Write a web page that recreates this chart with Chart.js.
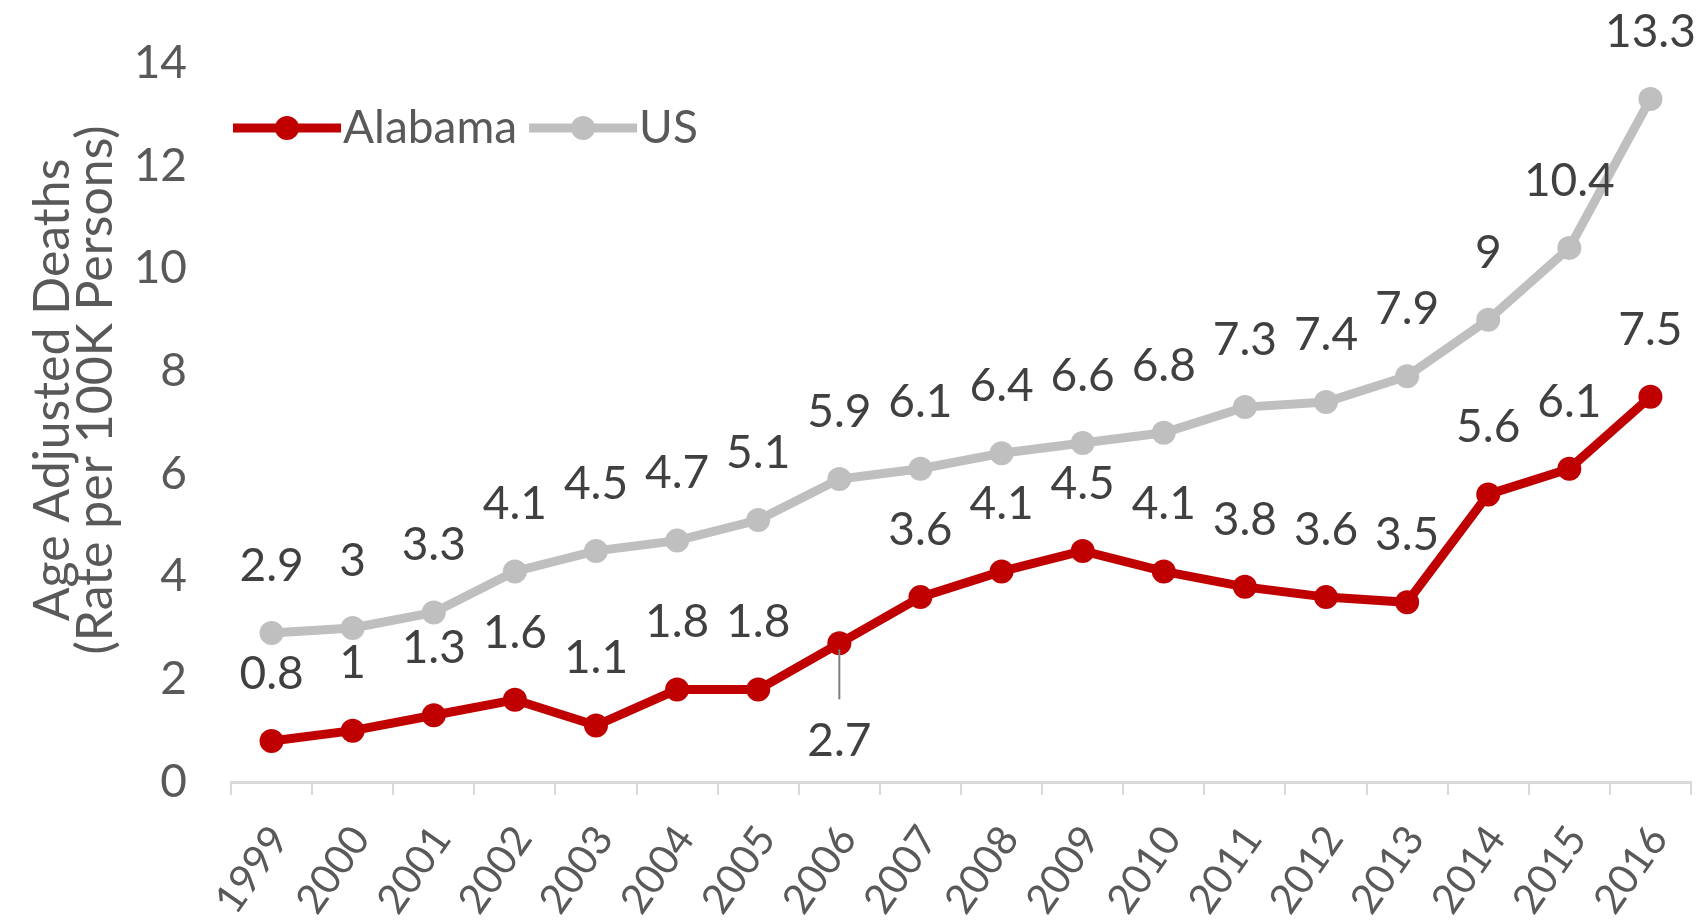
<!DOCTYPE html>
<html>
<head>
<meta charset="utf-8">
<script src="https://cdn.jsdelivr.net/npm/chart.js@4.4.1/dist/chart.umd.min.js"></script>
<style>
  html, body { margin: 0; padding: 0; background: #fff; }
  #chart { display: block; }
</style>
</head>
<body>
<canvas id="chart" width="1703" height="923"></canvas>
<script>
const years = ['1999', '2000', '2001', '2002', '2003', '2004', '2005', '2006', '2007',
               '2008', '2009', '2010', '2011', '2012', '2013', '2014', '2015', '2016'];
const alabamaRates = [0.8, 1, 1.3, 1.6, 1.1, 1.8, 1.8, 2.7, 3.6, 4.1, 4.5, 4.1, 3.8, 3.6, 3.5, 5.6, 6.1, 7.5];
const usRates = [2.9, 3, 3.3, 4.1, 4.5, 4.7, 5.1, 5.9, 6.1, 6.4, 6.6, 6.8, 7.3, 7.4, 7.9, 9, 10.4, 13.3];
const yTitle = ['Age Adjusted Deaths', '(Rate per 100K Persons)'];

const red = '#C00000';
const gray = '#BFBFBF';
const textColor = '#595959';
const fontFamily = 'Lato, "Open Sans", sans-serif';

// labels that sit under their point (dataset index -> point indexes)
const labelsBelow = { 0: [7] };

const pointLabels = {
    id: 'pointLabels',
    afterDatasetsDraw(chart) {
        const ctx = chart.ctx;
        ctx.save();
        ctx.font = `46px ${fontFamily}`;
        ctx.fillStyle = '#404040';
        ctx.textAlign = 'center';
        ctx.textBaseline = 'middle';
        chart.data.datasets.forEach((ds, i) => {
            const meta = chart.getDatasetMeta(i);
            const below = labelsBelow[i] || [];
            meta.data.forEach((pt, j) => {
                const txt = String(ds.data[j]);
                if (below.includes(j)) {
                    ctx.strokeStyle = '#7f7f7f';
                    ctx.lineWidth = 2;
                    ctx.beginPath();
                    ctx.moveTo(pt.x, pt.y + 6);
                    ctx.lineTo(pt.x, pt.y + 56);
                    ctx.stroke();
                    ctx.fillText(txt, pt.x, pt.y + 98);
                } else {
                    ctx.fillText(txt, pt.x, pt.y - 67);
                }
            });
        });
        ctx.restore();
    }
};

// legend drawn inside the plot, top left
const insideLegend = {
    id: 'insideLegend',
    afterDraw(chart) {
        const ctx = chart.ctx;
        const area = chart.chartArea;
        let x = area.left + 2;
        const y = area.top + 65;
        ctx.save();
        ctx.font = `46px ${fontFamily}`;
        ctx.textBaseline = 'middle';
        ctx.textAlign = 'left';
        chart.data.datasets.forEach(ds => {
            ctx.strokeStyle = ds.borderColor;
            ctx.lineWidth = ds.borderWidth;
            ctx.beginPath();
            ctx.moveTo(x, y);
            ctx.lineTo(x + 108, y);
            ctx.stroke();
            ctx.fillStyle = ds.borderColor;
            ctx.beginPath();
            ctx.arc(x + 54, y, ds.pointRadius, 0, Math.PI * 2);
            ctx.fill();
            ctx.fillStyle = textColor;
            ctx.fillText(ds.label, x + 110, y);
            x += 110 + ctx.measureText(ds.label).width + 12;
        });
        ctx.restore();
    }
};

// two-line y title, centred a bit above the plot middle like the original
const yAxisTitle = {
    id: 'yAxisTitle',
    afterDraw(chart) {
        const ctx = chart.ctx;
        ctx.save();
        ctx.font = `50px ${fontFamily}`;
        ctx.fillStyle = textColor;
        ctx.textAlign = 'center';
        ctx.textBaseline = 'middle';
        ctx.translate(53, 390);
        ctx.rotate(-Math.PI / 2);
        yTitle.forEach((line, i) => ctx.fillText(line, 0, i * 43));
        ctx.restore();
    }
};

new Chart(document.getElementById('chart'), {
    type: 'line',
    data: {
        labels: years,
        datasets: [
            {
                label: 'Alabama',
                data: alabamaRates,
                borderColor: red,
                backgroundColor: red,
                pointBackgroundColor: red,
                pointBorderColor: red,
                borderWidth: 9,
                pointRadius: 12,
                pointBorderWidth: 0,
                tension: 0,
                clip: false
            },
            {
                label: 'US',
                data: usRates,
                borderColor: gray,
                backgroundColor: gray,
                pointBackgroundColor: gray,
                pointBorderColor: gray,
                borderWidth: 9,
                pointRadius: 12,
                pointBorderWidth: 0,
                tension: 0,
                clip: false
            }
        ]
    },
    options: {
        responsive: false,
        animation: false,
        layout: { padding: { top: 63, right: 12, left: 0, bottom: 0 } },
        plugins: {
            legend: { display: false },
            tooltip: { enabled: false }
        },
        scales: {
            x: {
                offset: true,
                grid: {
                    offset: true,
                    drawOnChartArea: false,
                    drawTicks: true,
                    tickLength: 13,
                    color: '#D9D9D9',
                    lineWidth: 2
                },
                border: { color: '#D9D9D9', width: 3 },
                ticks: {
                    color: textColor,
                    font: { family: fontFamily, size: 41 },
                    minRotation: 55,
                    maxRotation: 55,
                    padding: 22,
                    labelOffset: 8,
                    autoSkip: false
                },
                afterFit(scale) {
                    scale.height = 141;
                    scale.paddingLeft = 0;
                    scale.paddingRight = 0;
                }
            },
            y: {
                min: 0,
                max: 14,
                grid: { display: false, drawTicks: false },
                border: { display: false },
                ticks: {
                    stepSize: 2,
                    color: textColor,
                    padding: 44,
                    font: { family: fontFamily, size: 46 }
                },
                afterFit(scale) {
                    scale.width = 231;
                    scale.paddingTop = 0;
                    scale.paddingBottom = 0;
                }
            }
        }
    },
    plugins: [pointLabels, insideLegend, yAxisTitle]
});
</script>
</body>
</html>
